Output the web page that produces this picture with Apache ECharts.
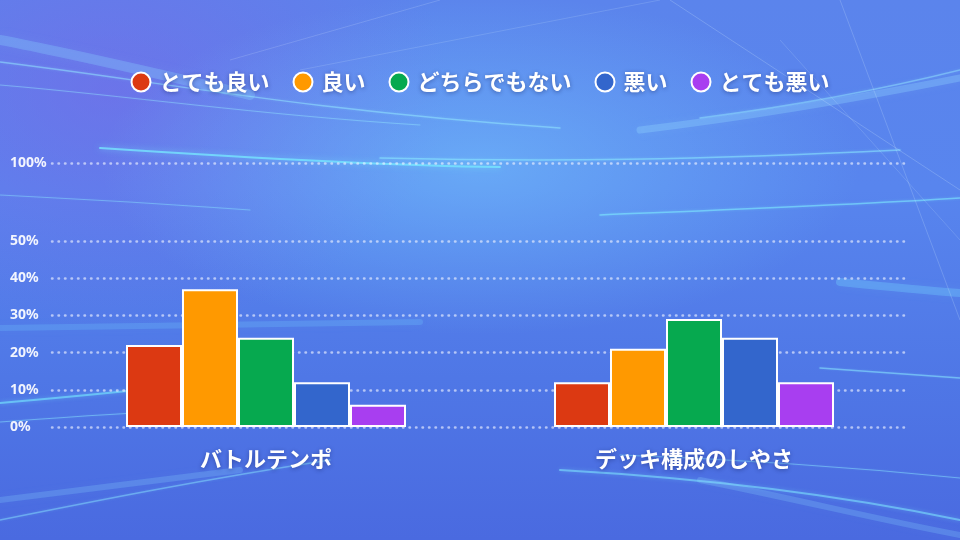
<!DOCTYPE html>
<html>
<head>
<meta charset="utf-8">
<script src="https://cdn.jsdelivr.net/npm/echarts@6/dist/echarts.min.js"></script>
<style>
html,body{margin:0;padding:0;width:960px;height:540px;overflow:hidden;}
body{
  background:
    radial-gradient(ellipse 380px 170px at 480px 165px, rgba(120,205,255,0.5), rgba(120,205,255,0) 100%),
    radial-gradient(ellipse 340px 240px at 110px 90px, rgba(125,100,230,0.5), rgba(125,100,230,0) 100%),
    linear-gradient(180deg, #5b84ec 0%, #5885ee 35%, #4f77e6 70%, #4a6ae0 100%);
}
#chart{width:960px;height:540px;}
</style>
</head>
<body>
<div id="chart"></div>
<script>
const categories = ['バトルテンポ', 'デッキ構成のしやさ'];
const seriesNames = ['とても良い', '良い', 'どちらでもない', '悪い', 'とても悪い'];
const veryGood = [22, 12];
const good = [37, 21];
const neutral = [24, 29];
const bad = [12, 24];
const veryBad = [6, 12];
const yTicks = [0, 10, 20, 30, 40, 50, 100];
const breakRange = [50, 100];

const seriesValues = [veryGood, good, neutral, bad, veryBad];
const colors = ['#dc3912', '#ff9900', '#06a94f', '#3366cc', '#a83ef0'];

const chart = echarts.init(document.getElementById('chart'), null, {renderer: 'canvas'});

function curve(x1, y1, cpx1, cpy1, cpx2, cpy2, x2, y2, w, color, blur) {
  return {
    type: 'bezierCurve', silent: true, z: -10,
    shape: {x1, y1, cpx1, cpy1, cpx2, cpy2, x2, y2},
    style: {stroke: color, lineWidth: w, fill: null, shadowBlur: blur || 0, shadowColor: color, lineCap: 'round'}
  };
}
function line(x1, y1, x2, y2, w, color) {
  return {
    type: 'line', silent: true, z: -10,
    shape: {x1, y1, x2, y2},
    style: {stroke: color, lineWidth: w}
  };
}

const deco = [
  curve(0, 40, 80, 55, 160, 75, 250, 95, 10, 'rgba(140,220,255,0.28)', 12),
  curve(0, 62, 150, 80, 300, 110, 560, 128, 1.5, 'rgba(150,235,255,0.5)', 3),
  curve(0, 85, 120, 95, 260, 115, 420, 125, 1, 'rgba(150,235,255,0.4)', 2),
  curve(100, 148, 250, 158, 400, 166, 500, 167, 2, 'rgba(120,235,255,0.75)', 6),
  curve(380, 158, 550, 162, 700, 160, 900, 150, 1.5, 'rgba(140,235,255,0.55)', 3),
  curve(0, 195, 100, 200, 180, 205, 250, 210, 1.2, 'rgba(140,235,255,0.4)', 2),
  curve(640, 130, 740, 118, 850, 100, 960, 78, 7, 'rgba(150,220,255,0.3)', 10),
  curve(700, 118, 800, 105, 880, 90, 960, 70, 1.5, 'rgba(150,235,255,0.45)', 3),
  curve(600, 215, 720, 210, 850, 205, 960, 198, 1.5, 'rgba(130,240,255,0.55)', 3),
  curve(840, 282, 880, 286, 920, 290, 960, 293, 8, 'rgba(120,220,255,0.3)', 10),
  curve(0, 328, 120, 326, 260, 323, 420, 322, 6, 'rgba(120,210,255,0.22)', 10),
  curve(0, 403, 80, 396, 160, 388, 230, 380, 2, 'rgba(120,235,255,0.6)', 4),
  curve(0, 422, 80, 416, 140, 412, 200, 410, 1.2, 'rgba(140,235,255,0.45)', 2),
  curve(820, 368, 870, 372, 920, 375, 960, 378, 1.5, 'rgba(140,235,255,0.5)', 2),
  curve(0, 520, 100, 500, 200, 480, 330, 460, 1.5, 'rgba(140,235,255,0.45)', 3),
  curve(0, 500, 80, 490, 160, 480, 240, 470, 6, 'rgba(140,220,255,0.22)', 10),
  curve(560, 470, 700, 478, 840, 495, 960, 520, 2, 'rgba(130,235,255,0.55)', 4),
  curve(620, 455, 760, 460, 880, 470, 960, 478, 1.2, 'rgba(140,235,255,0.45)', 2),
  curve(700, 480, 800, 500, 880, 520, 960, 535, 6, 'rgba(140,220,255,0.22)', 10),
  line(670, 0, 960, 190, 1, 'rgba(220,240,255,0.22)'),
  line(840, 0, 960, 320, 1, 'rgba(220,240,255,0.2)'),
  line(440, 0, 230, 60, 1, 'rgba(220,240,255,0.18)'),
  line(660, 0, 300, 70, 1, 'rgba(220,240,255,0.16)'),
  line(780, 40, 960, 240, 1, 'rgba(220,240,255,0.16)')
];

const gridLineStyle = {color: 'rgba(235,240,255,0.65)', width: 2.5, type: [0.5, 6], cap: 'round'};

const series = seriesNames.map((name, i) => {
  const s = {
    name: name,
    type: 'bar',
    data: seriesValues[i],
    barWidth: 56,
    barGap: '0%',
    itemStyle: {color: colors[i], borderColor: '#ffffff', borderWidth: 2}
  };
  if (i === 0) {
    s.markLine = {
      silent: true, symbol: 'none', z: 0,
      label: {show: false},
      lineStyle: gridLineStyle,
      emphasis: {disabled: true},
      data: [{yAxis: breakRange[0]}]
    };
  }
  return s;
});

const textShadow = {textShadowColor: 'rgba(20,30,90,0.45)', textShadowBlur: 4, textShadowOffsetY: 1};

chart.setOption({
  backgroundColor: 'transparent',
  animation: false,
  color: colors,
  graphic: deco,
  legend: {
    data: seriesNames,
    top: 66,
    left: 'center',
    icon: 'circle',
    itemWidth: 27,
    itemHeight: 19,
    itemGap: 23,
    itemStyle: {borderColor: '#ffffff', borderWidth: 2},
    textStyle: Object.assign({color: '#ffffff', fontSize: 22, fontWeight: 'bold', fontFamily: '"Noto Sans CJK JP", sans-serif'}, textShadow)
  },
  grid: {left: 52, right: 52, top: 163, bottom: 113, containLabel: false},
  xAxis: {
    type: 'category',
    data: categories,
    axisLine: {show: false},
    axisTick: {show: false},
    axisLabel: Object.assign({color: '#ffffff', fontSize: 22, fontWeight: 'bold', margin: 21, fontFamily: '"Noto Sans CJK JP", sans-serif'}, textShadow)
  },
  yAxis: {
    type: 'value',
    min: 0,
    max: 100,
    interval: 10,
    breaks: [{start: breakRange[0], end: breakRange[1], gap: '29.5%'}],
    breakArea: {show: false},
    axisLine: {show: false},
    axisTick: {show: false},
    axisLabel: {
      color: 'rgba(255,255,255,0.92)', fontSize: 14, fontWeight: 'bold', margin: 42, align: 'left',
      fontFamily: '"Noto Sans", sans-serif',
      formatter: function (v) { return yTicks.indexOf(v) >= 0 ? v + '%' : ''; }
    },
    splitLine: {show: true, lineStyle: gridLineStyle}
  },
  series: series
});
</script>
</body>
</html>
